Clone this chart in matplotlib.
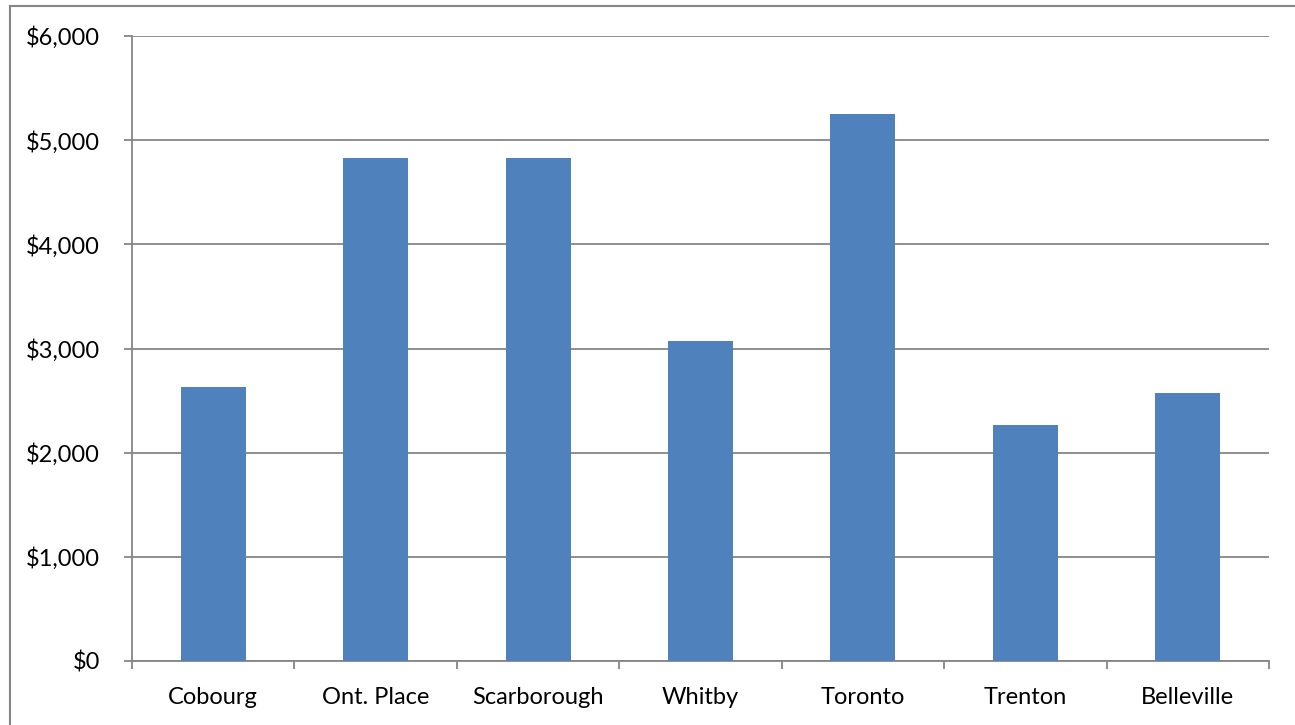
import numpy as np
from matplotlib import pyplot as plt
from matplotlib.lines import Line2D
from matplotlib.ticker import FuncFormatter, MultipleLocator

# 数据
cities = ['Cobourg', 'Ont. Place', 'Scarborough', 'Whitby', 'Toronto', 'Trenton', 'Belleville']
values = [2630, 4825, 4825, 3070, 5250, 2265, 2570]

plt.rcParams['font.family'] = ['Lato', 'DejaVu Sans']

W, H = 1295, 725
fig = plt.figure(figsize=(W / 100, H / 100), dpi=100)
ax = fig.add_axes([132 / W, 1 - 661 / H, (1269 - 132) / W, (661 - 36) / H])

grid_c = '#868686'
x = np.arange(len(cities))
ax.bar(x, values, width=0.4, color='#4F81BD', zorder=3)

ax.set_xlim(-0.5, len(cities) - 0.5)
ax.set_ylim(0, 6000)
ax.yaxis.set_major_locator(MultipleLocator(1000))
ax.yaxis.set_major_formatter(FuncFormatter(lambda v, p: '${:,.0f}'.format(v)))
ax.grid(axis='y', color=grid_c, linewidth=1.3, zorder=0)

# 类别之间的刻度
ax.set_xticks(np.arange(-0.5, len(cities), 1.0))
ax.set_xticklabels([])
ax.set_xticks(x, minor=True)
ax.set_xticklabels(cities, minor=True)
ax.tick_params(axis='x', which='major', length=6, color=grid_c, width=1.3, direction='out')
ax.tick_params(axis='x', which='minor', length=0, pad=19, labelsize=17)
ax.tick_params(axis='y', length=6, color=grid_c, width=1.3, labelsize=17, pad=17)

for s in ['top', 'right']:
    ax.spines[s].set_visible(False)
for s in ['left', 'bottom']:
    ax.spines[s].set_color(grid_c)
    ax.spines[s].set_linewidth(1.3)

# 外框
fig.add_artist(Line2D([10 / W, 10 / W], [0, 1 - 6 / H], transform=fig.transFigure, color=grid_c, lw=1.5))
fig.add_artist(Line2D([10 / W, 1], [1 - 6 / H, 1 - 6 / H], transform=fig.transFigure, color=grid_c, lw=1.5))

fig.savefig('out.png', dpi=100)
